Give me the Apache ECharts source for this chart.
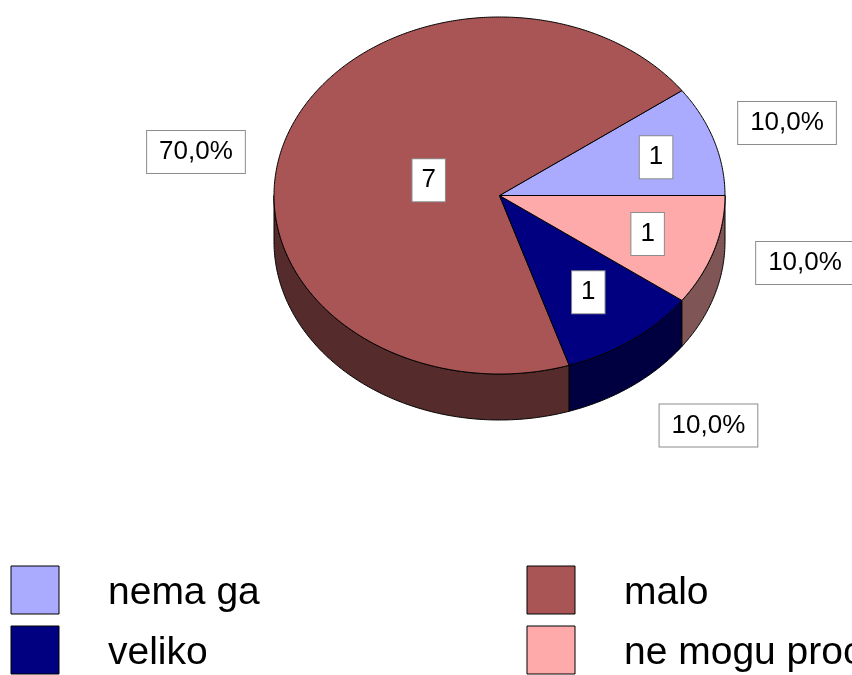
<!DOCTYPE html>
<html><head><meta charset="utf-8">
<script src="https://cdn.jsdelivr.net/npm/echarts@6/dist/echarts.min.js"></script>
<style>html,body{margin:0;padding:0;background:#fff}#c{width:852px;height:675px}</style>
</head><body><div id="c"></div>
<script>
// ---- data ----
const categories = ['nema ga', 'malo', 'veliko', 'ne mogu procijeniti'];
const counts = [1, 7, 1, 1];
// ---- styles ----
const topColors = ['#AAAAFF', '#AA5555', '#000080', '#FFAAAA'];
const sideColors = ['#55557F', '#552B2B', '#000040', '#7F5555'];
const innerLabelFactor = [0.73, 0.33, 0.67, 0.70];
const innerLabelNudge = [[0, 2], [0, 3], [0, 0], [-2, 0]];
const outerLabelNudge = [[-2, 2], [-14, 31], [30, 35], [16, -7]];

const FONT = '"Liberation Sans", Arial, sans-serif';
const geo = { cx: 499.5, cy: 195.5, rx: 225.5, ry: 178.5, depth: 46 };
const total = counts.reduce((a, b) => a + b, 0);
const startAngles = [];
{ let acc = 0; counts.forEach(v => { startAngles.push(360 * acc / total); acc += v; }); }
const pctText = v => (v / total * 100).toFixed(1).replace('.', ',') + '%';

function pt(a, dy) {
  const r = a * Math.PI / 180;
  return [geo.cx + geo.rx * Math.cos(r), geo.cy - geo.ry * Math.sin(r) + (dy || 0)];
}
function arc(a1, a2, dy) {
  const n = Math.max(2, Math.ceil(Math.abs(a2 - a1) / 0.5));
  const pts = [];
  for (let j = 0; j <= n; j++) pts.push(pt(a1 + (a2 - a1) * j / n, dy));
  return pts;
}

function renderItem(params, api) {
  const i = params.dataIndex;
  const v = api.value(0);
  const s = startAngles[i];
  const e = s + 360 * v / total;
  const children = [];
  // front side wall (lower half of ellipse)
  const lo = Math.max(s, 180), hi = Math.min(e, 360);
  if (hi > lo) {
    children.push({
      type: 'polygon', z2: 0,
      shape: { points: arc(lo, hi, 0).concat(arc(hi, lo, geo.depth)) },
      style: { fill: sideColors[i], stroke: '#000', lineWidth: 1 }
    });
  }
  // top face
  children.push({
    type: 'polygon', z2: 10,
    shape: { points: [[geo.cx, geo.cy]].concat(arc(s, e, 0)) },
    style: { fill: topColors[i], stroke: '#000', lineWidth: 1 }
  });
  const mid = (s + e) / 2 * Math.PI / 180;
  const f = innerLabelFactor[i];
  const inn = innerLabelNudge[i];
  children.push({
    type: 'text', z2: 20,
    x: geo.cx + f * geo.rx * Math.cos(mid) + inn[0],
    y: geo.cy - f * geo.ry * Math.sin(mid) + inn[1],
    style: {
      text: String(v), font: '26px ' + FONT, fill: '#000',
      align: 'center', verticalAlign: 'middle',
      backgroundColor: '#fff', borderColor: '#8c8c8c', borderWidth: 1,
      padding: [8, 9, 8, 9]
    }
  });
  const nud = outerLabelNudge[i];
  children.push({
    type: 'text', z2: 20,
    x: geo.cx + 1.35 * geo.rx * Math.cos(mid) + nud[0],
    y: geo.cy - 1.35 * geo.ry * Math.sin(mid) + nud[1],
    style: {
      text: pctText(v), font: '26px ' + FONT, fill: '#000',
      align: 'center', verticalAlign: 'middle',
      backgroundColor: '#fff', borderColor: '#8c8c8c', borderWidth: 1,
      padding: [8, 12, 8, 12]
    }
  });
  return { type: 'group', children };
}

// legend drawn as graphic elements (2 columns)
const legendEls = [];
categories.forEach((name, i) => {
  const col = i % 2, row = Math.floor(i / 2);
  const x0 = 11 + col * 516, y0 = 566 + row * 60;
  legendEls.push({
    type: 'rect', shape: { x: x0, y: y0, width: 48, height: 48 },
    style: { fill: topColors[i], stroke: '#000', lineWidth: 1 }
  });
  legendEls.push({
    type: 'text', x: x0 + 97, y: y0 + 27,
    style: { text: name, font: '39px ' + FONT, fill: '#000', verticalAlign: 'middle', align: 'left' }
  });
});

const chart = echarts.init(document.getElementById('c'), null, { renderer: 'canvas' });
chart.setOption({
  animation: false,
  backgroundColor: '#fff',
  series: [{
    type: 'custom', coordinateSystem: 'none', silent: true,
    data: counts.map((v, i) => ({ name: categories[i], value: v })),
    renderItem
  }],
  graphic: legendEls
});
</script></body></html>
